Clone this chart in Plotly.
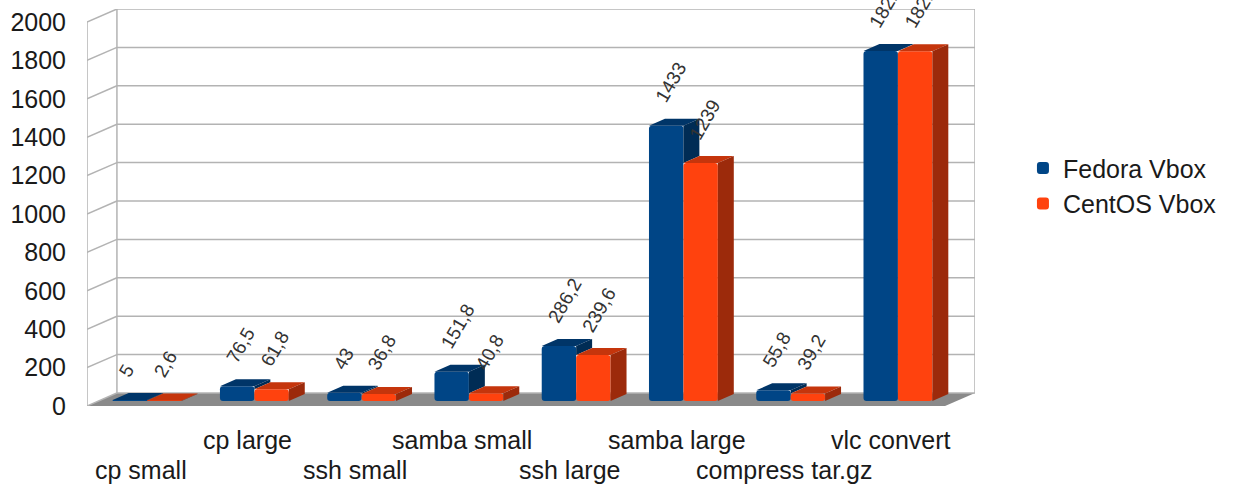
import plotly.graph_objects as go

# Benchmark timings (lower is better)
categories = ["cp small", "cp large", "ssh small", "samba small",
              "ssh large", "samba large", "compress tar.gz", "vlc convert"]
fedora_vbox = [5, 76.5, 43, 151.8, 286.2, 1433, 55.8, 1822.4]
centos_vbox = [2.6, 61.8, 36.8, 40.8, 239.6, 1239, 39.2, 1821.6]
y_ticks = [0, 200, 400, 600, 800, 1000, 1200, 1400, 1600, 1800, 2000]

# ---- pseudo-3D geometry (pixel sizes converted to axis units) ----
PX_PER_CAT = 107.5
PX_PER_VAL = 0.192


def ux(px):
    return px / PX_PER_CAT


def uy(px):
    return px / PX_PER_VAL


BAR_W = ux(34.5)
PAIR_SHIFT = ux(6.5)
BAR_BASE = uy(5)
DEPTH_X, DEPTH_Y = ux(16), uy(7)
WALL_X, WALL_Y = ux(30), uy(13)
X_LO, X_HI = -0.5, len(categories) - 0.5
Y_TOP = 2000 + WALL_Y

FEDORA_FRONT, FEDORA_TOP, FEDORA_SIDE = "#004586", "#003568", "#002c55"
CENTOS_FRONT, CENTOS_TOP, CENTOS_SIDE = "#ff420e", "#c5350c", "#9c2a0b"
GRID = "#b3b3b3"
FLOOR = "#8a8a8a"

FONT = "Liberation Sans, Arial, sans-serif"
TEXT_SIZE = 25
LABEL_SIZE = 19


def fmt(v):
    s = ("%.1f" % v).rstrip("0").rstrip(".")
    return s.replace(".", ",")


def text_width(s, size):
    w = 0.0
    for ch in s:
        w += 0.278 if ch in ",." else 0.556
    return w * size


xs = list(range(len(categories)))

fig = go.Figure()

fig.add_trace(go.Bar(
    x=xs, y=fedora_vbox, base=BAR_BASE, width=BAR_W,
    offset=PAIR_SHIFT - BAR_W, name="Fedora Vbox",
    marker=dict(color=FEDORA_FRONT, line=dict(width=0), cornerradius=3),
    hoverinfo="skip"))
fig.add_trace(go.Bar(
    x=xs, y=centos_vbox, base=BAR_BASE, width=BAR_W,
    offset=PAIR_SHIFT, name="CentOS Vbox",
    marker=dict(color=CENTOS_FRONT, line=dict(width=0), cornerradius=3),
    hoverinfo="skip"))


def top_face(xl, xr, yt):
    return ([xl, xr, xr + DEPTH_X, xl + DEPTH_X, xl, None],
            [yt, yt, yt + DEPTH_Y, yt + DEPTH_Y, yt, None])


def side_face(xr, ylow, yt):
    return ([xr, xr, xr + DEPTH_X, xr + DEPTH_X, xr, None],
            [ylow, yt, yt + DEPTH_Y, ylow + DEPTH_Y, ylow, None])


faces = {k: ([], []) for k in ("ft", "fs", "ct", "cs")}
for i, (f, c) in enumerate(zip(fedora_vbox, centos_vbox)):
    fl, fr = i + PAIR_SHIFT - BAR_W, i + PAIR_SHIFT
    cl, cr = fr, fr + BAR_W
    px, py = top_face(fl, fr, BAR_BASE + f)
    faces["ft"][0].extend(px); faces["ft"][1].extend(py)
    if f > c:  # only the part of the Fedora side above the CentOS bar shows
        px, py = side_face(fr, BAR_BASE + c, BAR_BASE + f)
        faces["fs"][0].extend(px); faces["fs"][1].extend(py)
    px, py = top_face(cl, cr, BAR_BASE + c)
    faces["ct"][0].extend(px); faces["ct"][1].extend(py)
    px, py = side_face(cr, BAR_BASE, BAR_BASE + c)
    faces["cs"][0].extend(px); faces["cs"][1].extend(py)

for key, color in (("ft", FEDORA_TOP), ("fs", FEDORA_SIDE),
                   ("ct", CENTOS_TOP), ("cs", CENTOS_SIDE)):
    fx, fy = faces[key]
    fig.add_trace(go.Scatter(
        x=fx, y=fy, mode="lines", fill="toself", fillcolor=color,
        line=dict(width=0, color=color), showlegend=False,
        hoverinfo="skip", cliponaxis=False))

# ---- walls, floor and grid ----
shapes = []
# floor
shapes.append(dict(
    type="path", xref="x", yref="y", layer="below",
    path=f"M {X_LO},0 L {X_HI},0 L {X_HI + WALL_X},{WALL_Y} "
         f"L {X_LO + WALL_X},{WALL_Y} Z",
    fillcolor=FLOOR, line=dict(width=0)))
for v in y_ticks:
    # back wall line
    shapes.append(dict(type="line", xref="x", yref="y", layer="below",
                       x0=X_LO + WALL_X, x1=X_HI + WALL_X,
                       y0=v + WALL_Y, y1=v + WALL_Y,
                       line=dict(color=GRID, width=1.5)))
    # side wall diagonal
    shapes.append(dict(type="line", xref="x", yref="y", layer="below",
                       x0=X_LO, x1=X_LO + WALL_X, y0=v, y1=v + WALL_Y,
                       line=dict(color=GRID, width=1.5)))
# vertical edges
for x0, y0 in ((X_LO, 0), (X_LO + WALL_X, WALL_Y), (X_HI + WALL_X, WALL_Y)):
    shapes.append(dict(type="line", xref="x", yref="y", layer="below",
                       x0=x0, x1=x0, y0=y0, y1=y0 + 2000,
                       line=dict(color=GRID, width=1.5)))

annotations = []
# value labels
for series, off in ((fedora_vbox, PAIR_SHIFT - BAR_W / 2),
                    (centos_vbox, PAIR_SHIFT + BAR_W / 2)):
    for i, v in enumerate(series):
        t = fmt(v)
        L = text_width(t, LABEL_SIZE)
        annotations.append(dict(
            x=i + off, y=BAR_BASE + v, xref="x", yref="y", text=t,
            showarrow=False, textangle=-60, xanchor="center", yanchor="middle",
            xshift=-6 + L * 0.25, yshift=25 + L * 0.433,
            font=dict(family=FONT, size=LABEL_SIZE, color="#333333")))

# category labels, staggered on two rows
for i, name in enumerate(categories):
    annotations.append(dict(
        x=i, y=-0.086 if i % 2 else -0.162, xref="x", yref="paper",
        text=name, showarrow=False, xanchor="center", yanchor="middle",
        font=dict(family=FONT, size=TEXT_SIZE, color="#1a1a1a")))

fig.update_layout(
    width=1237, height=488,
    margin=dict(l=87, r=262, t=9, b=82),
    paper_bgcolor="white", plot_bgcolor="white",
    barmode="overlay",
    showlegend=True,
    legend=dict(x=1.054, y=0.555, xanchor="left", yanchor="middle",
                font=dict(family=FONT, size=TEXT_SIZE, color="#1a1a1a"),
                tracegroupgap=2, itemwidth=30),
    xaxis=dict(range=[X_LO, X_HI + WALL_X], showgrid=False, zeroline=False,
               showticklabels=False, showline=False, fixedrange=True),
    yaxis=dict(range=[0, Y_TOP], tickvals=y_ticks, showgrid=False,
               zeroline=False, showline=False, ticks="outside", ticklen=15,
               tickcolor="rgba(0,0,0,0)",
               tickfont=dict(family=FONT, size=TEXT_SIZE, color="#1a1a1a")),
    shapes=shapes, annotations=annotations,
    font=dict(family=FONT),
)

fig.write_html("out.html")
